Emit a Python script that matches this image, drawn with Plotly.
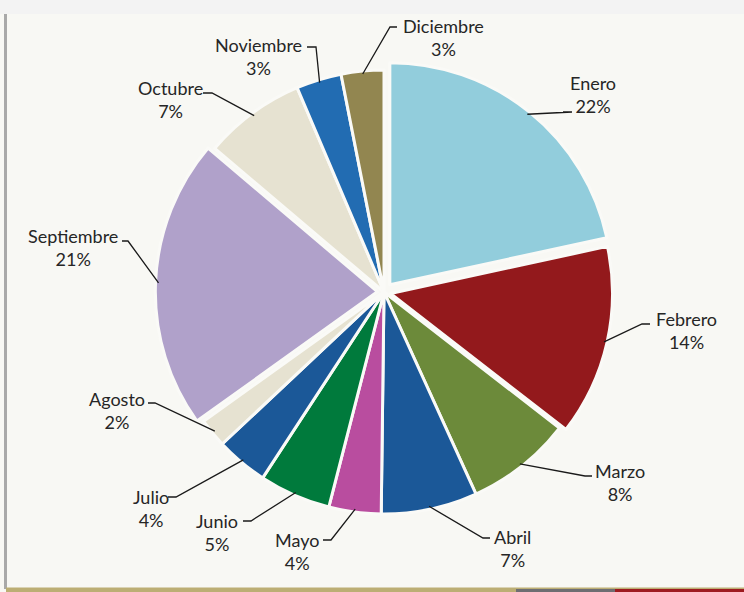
import math
import plotly.graph_objects as go

# ---------------- data ----------------
months = ["Enero", "Febrero", "Marzo", "Abril", "Mayo", "Junio", "Julio",
          "Agosto", "Septiembre", "Octubre", "Noviembre", "Diciembre"]
values = [21.6, 13.9, 7.7, 7.0, 3.8, 5.2, 3.8, 2.1, 21.1, 7.4, 3.3, 3.1]

# ---------------- style ----------------
colors = ["#92CDDC", "#93191C", "#6C8A3A", "#1B5898", "#B94D9F", "#007A3C",
          "#1B5898", "#E6E2D1", "#B0A1CA", "#E6E2D1", "#226CB2", "#928650"]
pulls = [0.042, 0.03, 0, 0, 0, 0, 0, 0, 0.03, 0, 0, 0]

W, H = 744, 592
CX, CY, R = 384, 292, 222          # pie centre / radius in pixels
MAXPULL = max(pulls)
HALF = R * (1 + MAXPULL)

# label text centres and leader-line end / elbow points (pixels)
label_pos = [(593, 94), (686, 330), (620, 482), (512, 548), (297, 551), (217, 532),
             (151, 508), (117, 410), (73, 247), (170, 100), (258, 57), (443, 37)]
line_end = [(563, 112), (650, 324), (592, 476), (490, 538), (323, 540), (243, 521),
            (168, 497), (148, 403), (122, 241), (203, 93), (307, 47), (397, 27)]
line_elbow = [(572, 112), (642, 324), (585, 476), (483, 538), (331, 540), (251, 521),
              (176, 497), (155, 403), (128, 241), (212, 93), (316, 47), (390, 27)]


def px(x):
    return x / W


def py(y):
    return 1 - y / H


fig = go.Figure()
fig.add_trace(go.Pie(
    labels=months, values=values, sort=False, direction="clockwise", rotation=0,
    marker=dict(colors=colors, line=dict(color="#FAFAF7", width=3)),
    pull=pulls, textinfo="none", showlegend=False, hoverinfo="label+percent",
    domain=dict(x=[px(CX - HALF), px(CX + HALF)], y=[py(CY + HALF), py(CY - HALF)]),
))

shapes = []
# background pieces
shapes.append(dict(type="rect", xref="paper", yref="paper", x0=0, x1=1, y0=py(14), y1=1,
                   fillcolor="#F3F3F3", line=dict(width=0), layer="below"))
shapes.append(dict(type="rect", xref="paper", yref="paper", x0=px(4), x1=px(7), y0=py(589), y1=py(14),
                   fillcolor="#A9A9A9", line=dict(width=0), layer="below"))
shapes.append(dict(type="rect", xref="paper", yref="paper", x0=px(6), x1=1, y0=py(592), y1=py(587.5),
                   fillcolor="#BCAE74", line=dict(width=0), layer="below"))
shapes.append(dict(type="rect", xref="paper", yref="paper", x0=px(516), x1=px(615), y0=py(592), y1=py(589),
                   fillcolor="#6E6E72", line=dict(width=0), layer="below"))
shapes.append(dict(type="rect", xref="paper", yref="paper", x0=px(615), x1=1, y0=py(592), y1=py(589),
                   fillcolor="#9E1B20", line=dict(width=0), layer="below"))

annotations = []
total = sum(values)
cum = 0.0
for i, (m, v) in enumerate(zip(months, values)):
    mid = 2 * math.pi * (cum + v / 2) / total
    cum += v
    rr = R * (1 + pulls[i]) - 3
    sx = CX + rr * math.sin(mid)
    sy = CY - rr * math.cos(mid)
    ex, ey = line_end[i]
    bx, by = line_elbow[i]
    shapes.append(dict(type="path", xref="paper", yref="paper",
                       path=f"M {px(sx)},{py(sy)} L {px(bx)},{py(by)} L {px(ex)},{py(ey)}",
                       line=dict(color="#1A1A1A", width=1.3)))
    tx, ty = label_pos[i]
    pct = round(v / total * 100)
    annotations.append(dict(x=px(tx), y=py(ty), xref="paper", yref="paper",
                            text=f"{m}<br>{pct}%", showarrow=False,
                            xanchor="center", yanchor="middle", align="center",
                            font=dict(family="Lato, Open Sans, sans-serif", size=18, color="#262626")))

fig.update_layout(
    width=W, height=H, margin=dict(l=0, r=0, t=0, b=0),
    paper_bgcolor="#F8F8F4", plot_bgcolor="#F8F8F4",
    shapes=shapes, annotations=annotations,
)

fig.write_html("out.html", config={"displayModeBar": False},
               post_script="document.body.style.margin='0px';")
